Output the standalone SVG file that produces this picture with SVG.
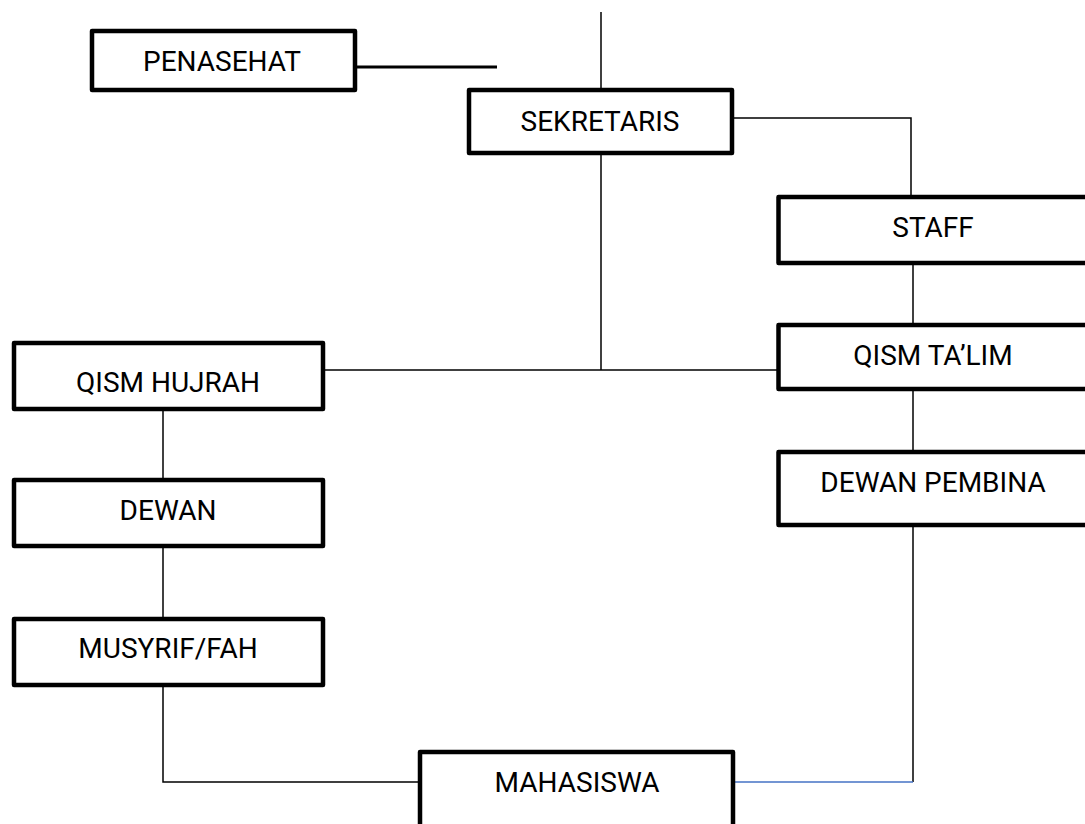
<svg xmlns="http://www.w3.org/2000/svg" width="1085" height="824" viewBox="0 0 1085 824">
<style>
.box{fill:#fff;stroke:#000;stroke-width:4.5;stroke-linejoin:round}
.lbl{font-family:Roboto,"Liberation Sans",sans-serif;font-size:28px;fill:#000;text-anchor:middle}
.ln{fill:none;stroke:#000;stroke-width:1.5}
</style>
<rect width="1085" height="824" fill="#fff"/>
<g id="connectors">
<path class="ln" d="M601,12 V88"/>
<path fill="none" stroke="#000" stroke-width="3" d="M357,67 H497"/>
<path class="ln" d="M734,118 H911 V195"/>
<path class="ln" d="M601,155 V370"/>
<path class="ln" d="M325,370 H777"/>
<path class="ln" d="M913,265 V323"/>
<path class="ln" d="M913,391 V450"/>
<path class="ln" d="M913,527 V782"/>
<path fill="none" stroke="#4472C4" stroke-width="1.5" d="M913,782 H735"/>
<path class="ln" d="M163,411 V478"/>
<path class="ln" d="M163,548 V617"/>
<path class="ln" d="M163,687 V782 H420"/>
</g>
<g id="penasehat"><rect class="box" x="92" y="31" width="263" height="59"/><text class="lbl" x="222" y="71">PENASEHAT</text></g>
<g id="sekretaris"><rect class="box" x="469" y="90" width="263" height="63"/><text class="lbl" x="600" y="131">SEKRETARIS</text></g>
<g id="staff"><rect class="box" x="778.5" y="197" width="330" height="66"/><text class="lbl" x="933" y="237">STAFF</text></g>
<g id="qism-talim"><rect class="box" x="778.5" y="325" width="330" height="64"/><text class="lbl" x="933" y="365">QISM TA’LIM</text></g>
<g id="dewan-pembina"><rect class="box" x="778.5" y="452" width="330" height="73"/><text class="lbl" x="933" y="492">DEWAN PEMBINA</text></g>
<g id="qism-hujrah"><rect class="box" x="14" y="343" width="309" height="66"/><text class="lbl" x="168" y="392">QISM HUJRAH</text></g>
<g id="dewan"><rect class="box" x="14" y="480" width="309" height="66"/><text class="lbl" x="168" y="520">DEWAN</text></g>
<g id="musyrif"><rect class="box" x="14" y="619" width="309" height="66"/><text class="lbl" x="168" y="658">MUSYRIF/FAH</text></g>
<g id="mahasiswa"><rect class="box" x="420" y="752" width="313" height="85"/><text class="lbl" x="577" y="792">MAHASISWA</text></g>
</svg>
